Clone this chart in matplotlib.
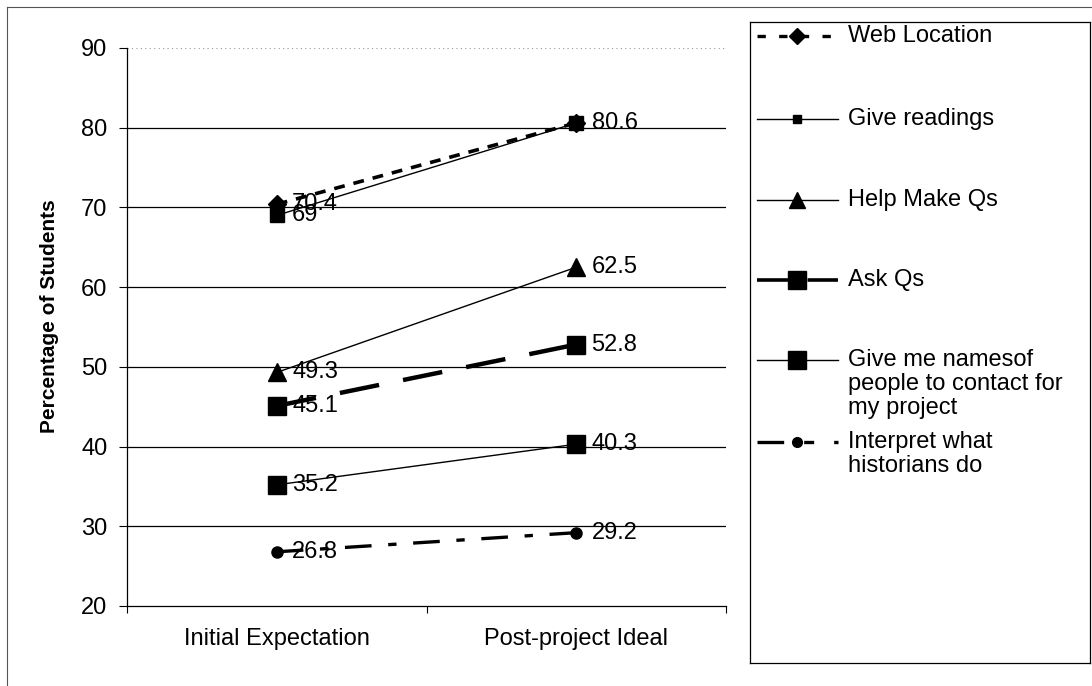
import numpy as np
import matplotlib
matplotlib.use("Agg")
import matplotlib.pyplot as plt
from matplotlib.lines import Line2D

plt.rcParams['font.family'] = ['Liberation Sans', 'DejaVu Sans']

# data
stages = ["Initial Expectation", "Post-project Ideal"]
series_names = ["Web Location", "Give readings", "Help Make Qs", "Ask Qs",
                "Give me namesof\npeople to contact for\nmy project",
                "Interpret what\nhistorians do"]
web_location = [70.4, 80.6]
give_readings = [69, 80.6]
help_make_qs = [49.3, 62.5]
ask_qs = [45.1, 52.8]
give_names = [35.2, 40.3]
interpret = [26.8, 29.2]
yticks = [20, 30, 40, 50, 60, 70, 80, 90]

series = [web_location, give_readings, help_make_qs, ask_qs, give_names, interpret]
# which points get a value label
show_label = [[True, True], [True, False], [True, True], [True, True],
              [True, True], [True, True]]

styles = [
    dict(ls=(0, (3, 2.5)), lw=2.6, marker='D', ms=9),
    dict(ls='-', lw=1.0, marker='s', ms=10),
    dict(ls='-', lw=1.0, marker='^', ms=13),
    dict(ls=(0, (9, 5.5)), lw=3.2, marker='s', ms=13),
    dict(ls='-', lw=1.0, marker='s', ms=13),
    dict(ls=(0, (8, 5, 2.5, 5)), lw=2.4, marker='o', ms=8),
]
legend_styles = [
    dict(ls=(0, (2.5, 4)), lw=2.4, marker='D', ms=8),
    dict(ls='-', lw=1.0, marker='s', ms=6),
    dict(ls='-', lw=1.0, marker='^', ms=11),
    dict(ls=(0, (9, 5)), lw=2.6, marker='s', ms=13),
    dict(ls='-', lw=1.0, marker='s', ms=13),
    dict(ls=(0, (8, 6, 3, 6)), lw=2.4, marker='o', ms=7),
]

fig = plt.figure(figsize=(10.92, 6.86), dpi=100)
ax = fig.add_axes([127 / 1092, 1 - 606 / 686, 599 / 1092, 558 / 686])

x = np.arange(len(stages))
for vals, st, lab in zip(series, styles, show_label):
    ax.plot(x, vals, color='black', solid_capstyle='butt',
            dash_capstyle='butt', zorder=3, **st)
    for xi, v, on in zip(x, vals, lab):
        if on:
            ax.annotate(f"{v:g}", (xi, v), xytext=(11, 0),
                        textcoords='offset points', va='center', ha='left',
                        fontsize=17, zorder=4)

ax.set_xlim(-0.5, 1.5)
ax.set_ylim(20, 90)
ax.set_yticks(yticks)
ax.tick_params(axis='y', labelsize=17, length=6, width=0.8, direction='out', pad=8)

# category boundaries as ticks, names in between
ax.set_xticks([-0.5, 0.5, 1.5])
ax.set_xticklabels([])
ax.set_xticks(x, minor=True)
ax.set_xticklabels(stages, minor=True, fontsize=17)
ax.tick_params(axis='x', which='major', length=5, direction='out', width=0.8)
ax.tick_params(axis='x', which='minor', length=0, pad=16)

for yv in yticks[1:-1]:
    ax.axhline(yv, color='black', lw=0.9, zorder=1)
ax.axhline(90, color='#999999', lw=0.8, ls=(0, (1, 3)), zorder=1)

ax.spines['top'].set_visible(False)
ax.spines['right'].set_visible(False)
ax.spines['left'].set_linewidth(0.9)
ax.spines['bottom'].set_linewidth(0.9)

ax.set_ylabel("Percentage of Students", fontsize=15, fontweight='bold')
ax.yaxis.set_label_coords(-0.113, 0.52)

# legend box drawn by hand
lax = fig.add_axes([750 / 1092, 1 - 663 / 686, 340 / 1092, 641 / 686])
lax.set_xlim(750, 1090)
lax.set_ylim(663, 22)
lax.set_xticks([])
lax.set_yticks([])
for s in lax.spines.values():
    s.set_linewidth(0.9)
row_y = [36, 119, 200, 280, 360, 442]
line_gap = 24
for name, st, ry in zip(series_names, legend_styles, row_y):
    lax.add_line(Line2D([757, 838], [ry, ry], color='black', dash_capstyle='butt',
                        ls=st['ls'], lw=st['lw']))
    lax.plot([797], [ry], color='black', marker=st['marker'], ms=st['ms'], ls='none')
    for i, part in enumerate(name.split('\n')):
        lax.text(848, ry + i * line_gap, part, va='center', ha='left', fontsize=17)

# outer frame
fig.add_artist(Line2D([7 / 1092, 7 / 1092], [0, 1 - 7 / 686], color='#555555', lw=0.8))
fig.add_artist(Line2D([7 / 1092, 1], [1 - 7 / 686, 1 - 7 / 686], color='#555555', lw=0.8))

fig.savefig("out.png", dpi=100)
